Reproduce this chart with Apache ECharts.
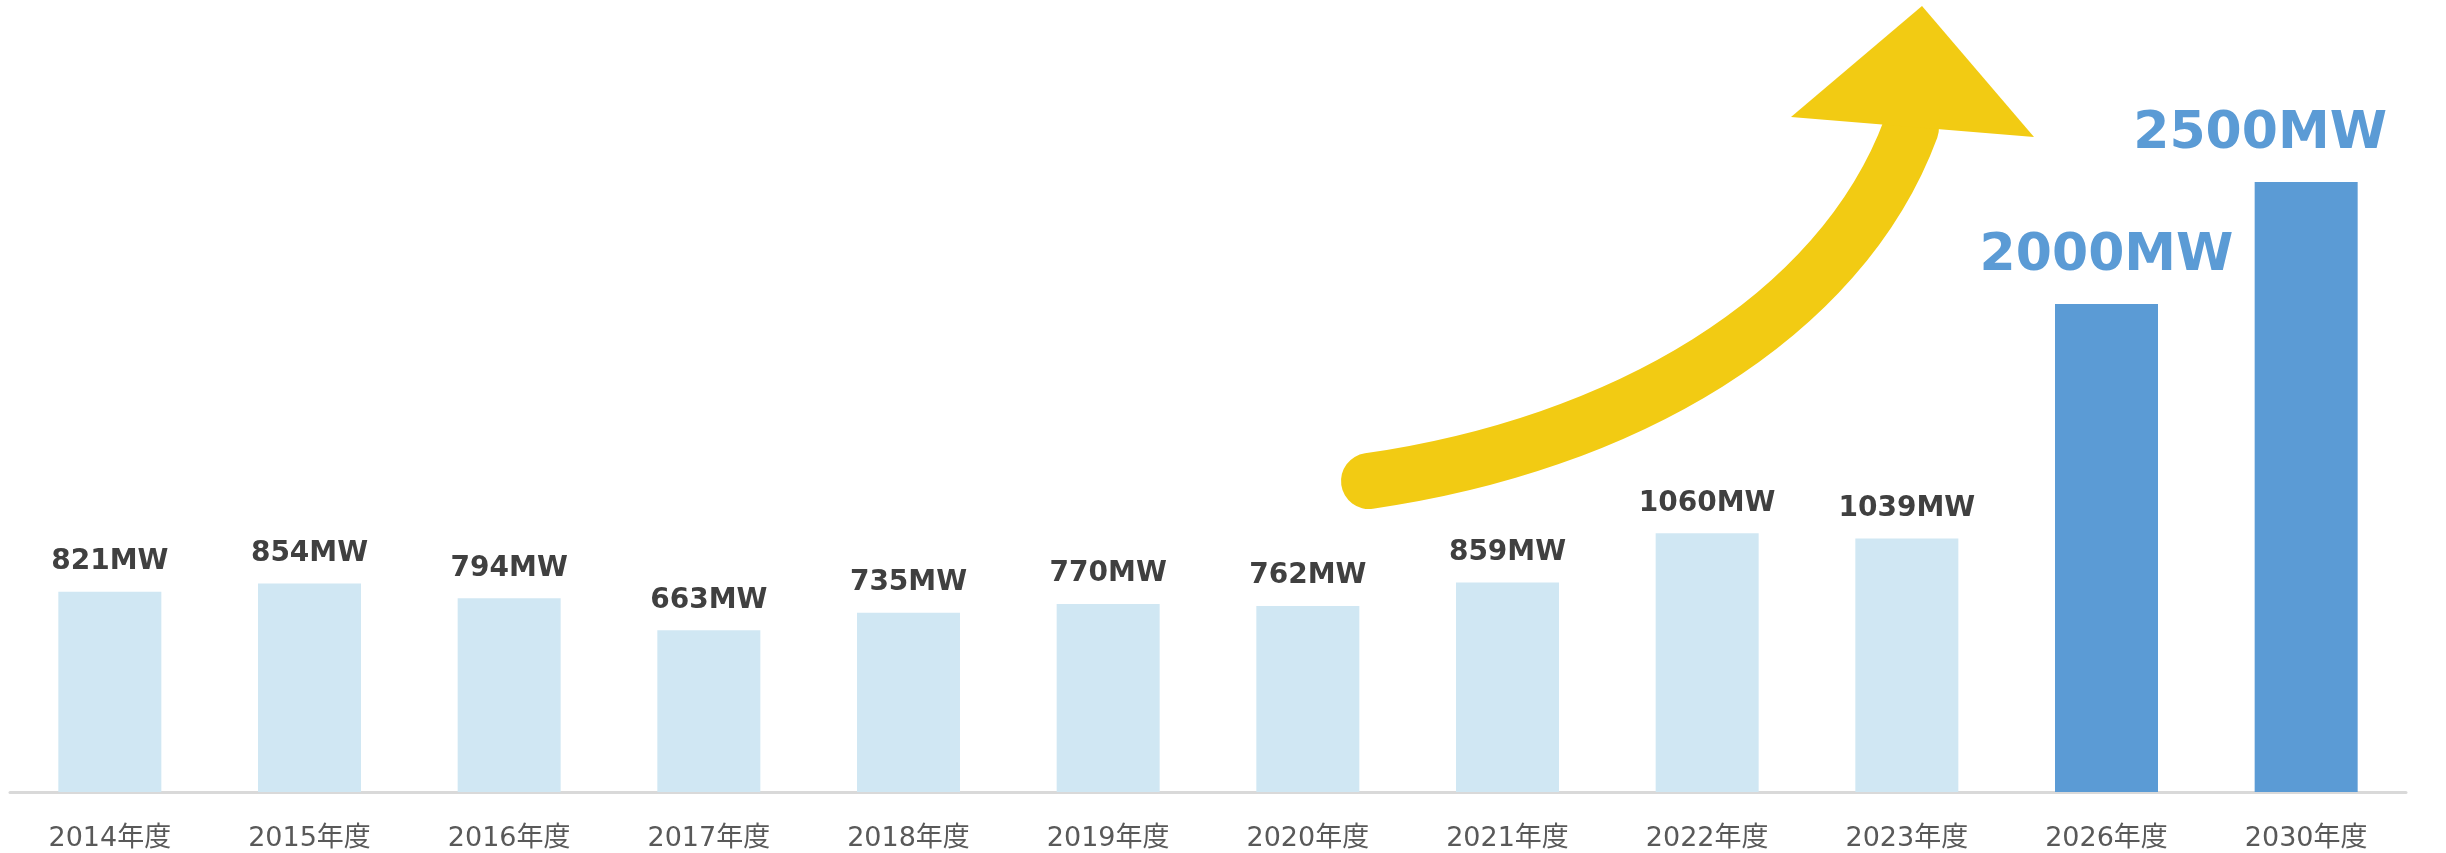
<!DOCTYPE html>
<html>
<head>
<meta charset="utf-8">
<title>導入量の推移</title>
<script src="https://cdn.jsdelivr.net/npm/echarts@6/dist/echarts.min.js"></script>
<style>
  html, body { margin: 0; padding: 0; background: #fff; }
  #main { width: 2446px; height: 853px; }
</style>
</head>
<body>
<div id="main"></div>
<script>
// 年度
var years = ['2014年度', '2015年度', '2016年度', '2017年度', '2018年度', '2019年度',
             '2020年度', '2021年度', '2022年度', '2023年度', '2026年度', '2030年度'];
// 実績 (MW)
var actual = [821, 854, 794, 663, 735, 770, 762, 859, 1060, 1039, null, null];
// 目標 (MW)
var target = [null, null, null, null, null, null, null, null, null, null, 2000, 2500];

var myChart = echarts.init(document.getElementById('main'));

var fontFamily = "'DejaVu Sans', 'Noto Sans CJK JP', sans-serif";

// 2030年度 のラベルだけ少し左へ
var targetData = target.map(function (v, i) {
    if (v === null) return null;
    var item = { value: v };
    if (i === target.length - 1) {
        item.label = { offset: [-46, 0] };
    }
    return item;
});

var option = {
    animation: false,
    backgroundColor: '#ffffff',
    grid: {
        left: 10,
        right: 40,
        top: 60,
        bottom: 61
    },
    xAxis: {
        type: 'category',
        data: years,
        axisLine: {
            lineStyle: { color: '#d9d9d9', width: 3 }
        },
        axisTick: { show: false },
        axisLabel: {
            color: '#595959',
            fontSize: 27,
            fontFamily: fontFamily,
            margin: 33
        }
    },
    yAxis: {
        type: 'value',
        min: 0,
        max: 3000,
        show: false,
        splitLine: { show: false }
    },
    series: [
        {
            name: '実績',
            type: 'bar',
            data: actual,
            barWidth: 103,
            barGap: '-100%',
            itemStyle: { color: '#d0e7f3' },
            label: {
                show: true,
                position: 'top',
                distance: 16,
                formatter: '{c}MW',
                color: '#404040',
                fontSize: 28,
                fontWeight: 'bold',
                fontFamily: fontFamily
            }
        },
        {
            name: '目標',
            type: 'bar',
            data: targetData,
            barWidth: 103,
            barGap: '-100%',
            itemStyle: { color: '#5b9bd5' },
            label: {
                show: true,
                position: 'top',
                distance: 22,
                formatter: '{c}MW',
                color: '#5b9bd5',
                fontSize: 52,
                fontWeight: 'bold',
                fontFamily: fontFamily
            }
        }
    ],
    // 右上がりの矢印 (装飾)
    graphic: [
        {
            type: 'bezierCurve',
            z: 10,
            shape: {
                x1: 1369, y1: 481,
                cpx1: 1620, cpy1: 445,
                cpx2: 1840, cpy2: 320,
                x2: 1911, y2: 128
            },
            style: {
                stroke: '#f2cb13',
                lineWidth: 56,
                fill: null,
                lineCap: 'round'
            }
        },
        {
            type: 'polygon',
            z: 10,
            shape: {
                points: [[1791, 117], [1922, 6], [2034, 137]]
            },
            style: { fill: '#f2cb13' }
        }
    ]
};

myChart.setOption(option);
</script>
</body>
</html>
